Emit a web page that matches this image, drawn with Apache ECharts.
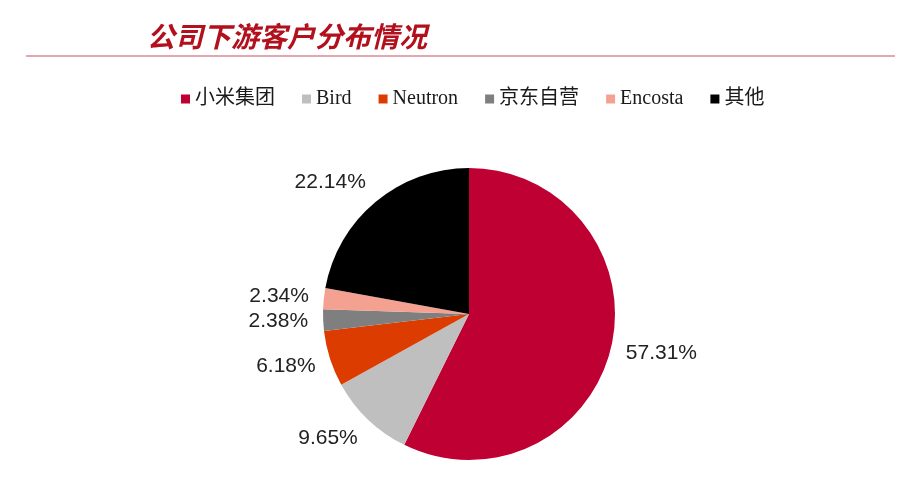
<!DOCTYPE html>
<html>
<head>
<meta charset="utf-8">
<script src="https://cdn.jsdelivr.net/npm/echarts@6/dist/echarts.min.js"></script>
<style>
html,body{margin:0;padding:0;background:#fff;}
#main{width:919px;height:494px;}
</style>
</head>
<body>
<div id="main"></div>
<script>
const titleText = '公司下游客户分布情况';
const categories = ['小米集团', 'Bird', 'Neutron', '京东自营', 'Encosta', '其他'];
const values = [57.31, 9.65, 6.18, 2.38, 2.34, 22.14];
const colors = ['#BE0032', '#BFBFBF', '#DC3C00', '#7F7F7F', '#F4A191', '#000000'];

const pieCenter = [469, 314];
const pieRadius = 146;
const labelGap = 15;

const total = values.reduce((a, b) => a + b, 0);
function midAngle(idx) {
  let cum = 0;
  for (let i = 0; i < idx; i++) cum += values[i];
  return (cum + values[idx] / 2) / total * Math.PI * 2;
}

const chart = echarts.init(document.getElementById('main'));
const option = {
  backgroundColor: '#ffffff',
  animation: false,
  color: colors,
  title: {
    text: titleText,
    left: 142,
    top: 17,
    textStyle: {
      color: '#B3101E',
      fontSize: 28,
      fontStyle: 'italic',
      fontWeight: 'bold',
      fontFamily: "'Noto Sans CJK SC'"
    }
  },
  graphic: [{
    type: 'line',
    shape: { x1: 26, y1: 56, x2: 895, y2: 56 },
    style: { stroke: '#D98A95', lineWidth: 1.5 },
    silent: true
  }],
  legend: {
    left: 176,
    top: 84,
    itemWidth: 9,
    itemHeight: 9,
    itemGap: 27,
    icon: 'rect',
    textStyle: {
      color: '#1a1a1a',
      fontSize: 20,
      fontFamily: "'Liberation Serif','Noto Sans CJK SC'"
    },
    data: categories
  },
  series: [{
    type: 'pie',
    center: pieCenter,
    radius: pieRadius,
    startAngle: 90,
    clockwise: true,
    avoidLabelOverlap: false,
    itemStyle: { borderWidth: 0 },
    label: {
      show: true,
      position: 'outside',
      formatter: function (p) { return p.value.toFixed(2) + '%'; },
      color: '#222222',
      fontSize: 21,
      fontFamily: "'Liberation Sans', Arial, sans-serif",
      distanceToLabelLine: 0
    },
    labelLine: { show: false, length: 25, length2: 0 },
    labelLayout: function (params) {
      const a = midAngle(params.dataIndex);
      const dx = Math.sin(a), dy = -Math.cos(a);
      const R = pieRadius + labelGap;
      const h = params.labelRect.height;
      return {
        x: pieCenter[0] + R * dx,
        y: pieCenter[1] + R * dy + dy * h / 2,
        align: dx < 0 ? 'right' : 'left',
        verticalAlign: 'middle'
      };
    },
    emphasis: { disabled: true },
    data: categories.map((c, i) => ({ name: c, value: values[i] }))
  }]
};
chart.setOption(option);
</script>
</body>
</html>
